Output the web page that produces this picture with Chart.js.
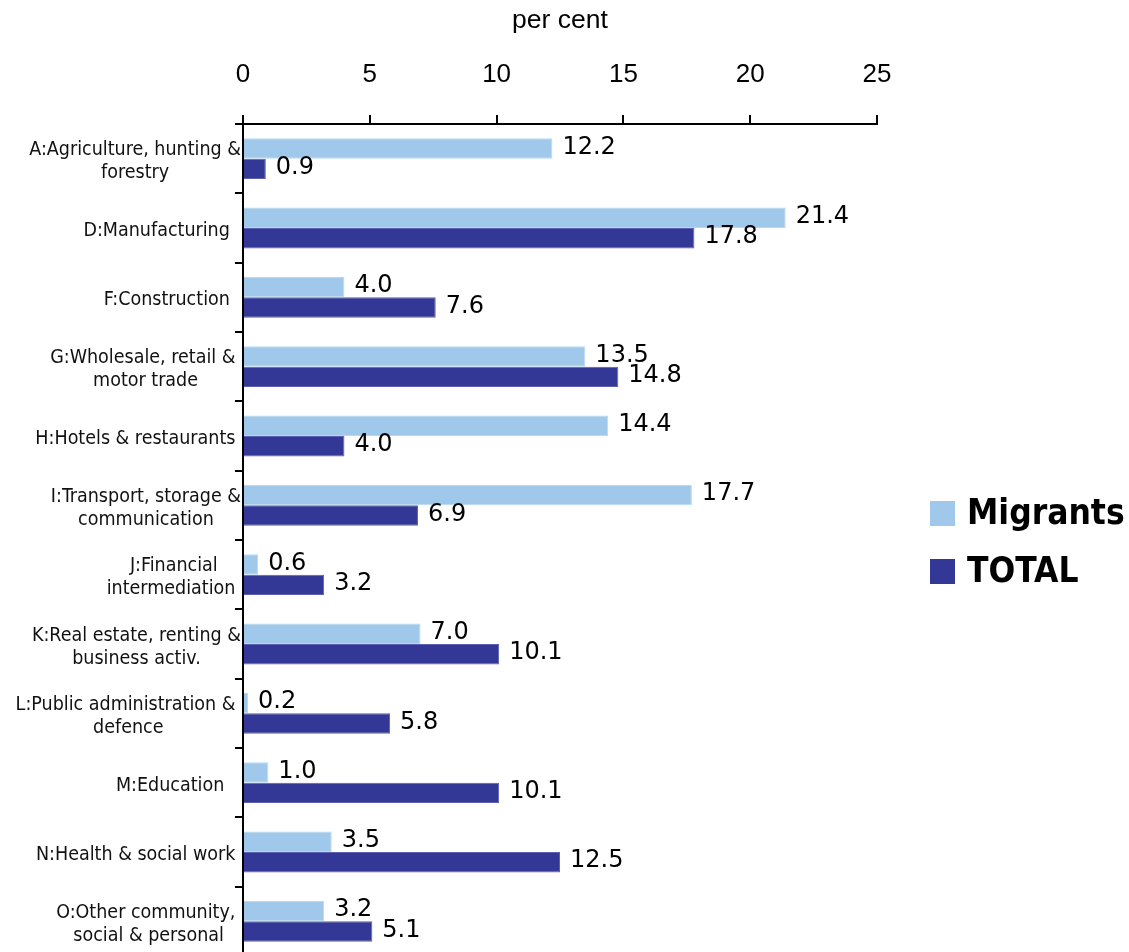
<!DOCTYPE html>
<html>
<head>
<meta charset="utf-8">
<script src="https://cdn.jsdelivr.net/npm/chart.js@4.4.1/dist/chart.umd.min.js"></script>
<style>
html,body{margin:0;padding:0;background:#fff;overflow:hidden;}
#wrap{position:relative;width:1129px;height:956px;}
canvas{display:block;}
</style>
</head>
<body>
<div id="wrap"><canvas id="c" width="1129" height="956"></canvas></div>
<script>
// ---- data ----
const categories = [
  ["A:Agriculture, hunting &", "forestry"],
  ["D:Manufacturing  "],
  ["F:Construction  "],
  ["G:Wholesale, retail & ", "motor trade"],
  ["H:Hotels & restaurants "],
  ["I:Transport, storage &", "communication"],
  ["J:Financial", "intermediation "],
  ["K:Real estate, renting &", "business activ."],
  ["L:Public administration & ", "defence"],
  ["M:Education   "],
  ["N:Health & social work "],
  ["O:Other community, ", "social & personal"]
];
const migrants = [12.2, 21.4, 4.0, 13.5, 14.4, 17.7, 0.6, 7.0, 0.2, 1.0, 3.5, 3.2];
const total    = [0.9, 17.8, 7.6, 14.8, 4.0, 6.9, 3.2, 10.1, 5.8, 10.1, 12.5, 5.1];
const seriesNames = ["Migrants", "TOTAL"];
const xTickValues = [0, 5, 10, 15, 20, 25];
const axisTitle = "per cent";

// ---- styles ----
const ARIAL = '"Liberation Sans", Arial, sans-serif';
const SANS = '"DejaVu Sans", Verdana, sans-serif';
const COND = '"DejaVu Sans Condensed", "DejaVu Sans", sans-serif';

const yLabelPlugin = {
  id: 'yLabels',
  afterDraw(chart) {
    const ctx = chart.ctx;
    const ys = chart.scales.y;
    ctx.save();
    ctx.font = '19.5px ' + COND;
    ctx.fillStyle = '#111';
    ctx.textBaseline = 'middle';
    ctx.textAlign = 'center';
    const R = ys.right - 2;
    const lh = 23;
    chart.data.labels.forEach((lines, i) => {
      const cy = ys.getPixelForValue(i) + 3;
      const w = Math.max(...lines.map(l => ctx.measureText(l).width));
      const cx = R - w / 2;
      lines.forEach((l, j) => {
        ctx.fillText(l, cx, cy + (j - (lines.length - 1) / 2) * lh);
      });
    });
    ctx.restore();
  }
};

const valueLabelPlugin = {
  id: 'valueLabels',
  afterDatasetsDraw(chart) {
    const ctx = chart.ctx;
    ctx.save();
    ctx.font = '24px ' + SANS;
    ctx.fillStyle = '#000';
    ctx.textBaseline = 'middle';
    ctx.textAlign = 'left';
    chart.data.datasets.forEach((ds, di) => {
      const meta = chart.getDatasetMeta(di);
      meta.data.forEach((el, i) => {
        ctx.fillText(Number(ds.data[i]).toFixed(1), el.x + 10, el.y - 1);
      });
    });
    ctx.restore();
  }
};

const legendPlugin = {
  id: 'customLegend',
  afterDraw(chart) {
    const ctx = chart.ctx;
    ctx.save();
    const x0 = chart.chartArea.right + 53;
    const y0 = 501;
    const step = 58;
    const box = 25;
    ctx.font = 'bold 35px ' + COND;
    ctx.textBaseline = 'middle';
    ctx.textAlign = 'left';
    chart.data.datasets.forEach((ds, i) => {
      const y = y0 + i * step;
      ctx.fillStyle = ds.backgroundColor;
      ctx.fillRect(x0, y, box, box);
      ctx.fillStyle = '#000';
      ctx.fillText(ds.label, x0 + box + 12, y + box / 2 + 1);
    });
    ctx.restore();
  }
};

new Chart(document.getElementById('c'), {
  type: 'bar',
  data: {
    labels: categories,
    datasets: [
      { label: seriesNames[0], data: migrants, backgroundColor: '#9FC8EA', borderColor: '#BAD8F1', borderWidth: 1,
        categoryPercentage: 0.59, barPercentage: 1.0 },
      { label: seriesNames[1], data: total, backgroundColor: '#333795', borderColor: '#5C5FB2', borderWidth: 1,
        categoryPercentage: 0.59, barPercentage: 1.0 }
    ]
  },
  options: {
    indexAxis: 'y',
    responsive: false,
    animation: false,
    devicePixelRatio: 1,
    layout: { padding: { left: 0, right: 252, top: 0, bottom: 0 } },
    plugins: { legend: { display: false }, tooltip: { enabled: false } },
    scales: {
      x: {
        position: 'top',
        min: xTickValues[0],
        max: xTickValues[xTickValues.length - 1],
        afterBuildTicks(s) { s.ticks = xTickValues.map(v => ({ value: v })); },
        ticks: { font: { family: ARIAL, size: 26 }, color: '#000', padding: 25, maxRotation: 0 },
        grid: { drawOnChartArea: false, tickLength: 9, color: '#000', lineWidth: 2 },
        border: { display: true, color: '#000', width: 2 },
        title: { display: true, text: axisTitle, color: '#000', font: { family: ARIAL, size: 26.5 }, padding: { top: 5, bottom: 0 } },
        afterFit(s) { s.height = 124; }
      },
      y: {
        ticks: { display: false },
        grid: { drawOnChartArea: false, tickLength: 8, color: '#000', lineWidth: 2, offset: true },
        border: { display: true, color: '#000', width: 2 },
        afterFit(s) { s.width = 243; }
      }
    }
  },
  plugins: [yLabelPlugin, valueLabelPlugin, legendPlugin]
});
</script>
</body>
</html>
